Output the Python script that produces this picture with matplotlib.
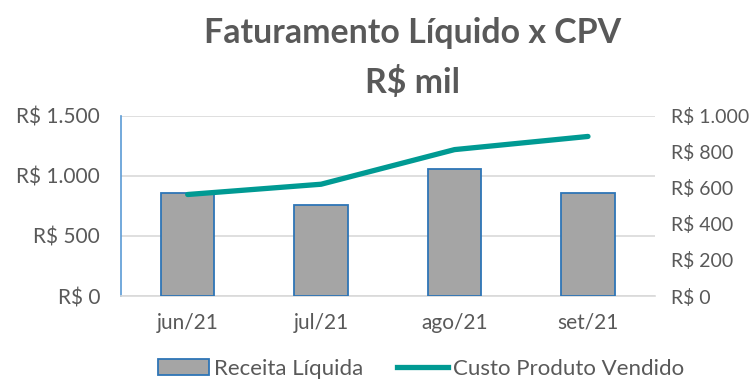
import matplotlib
matplotlib.use("Agg")
import matplotlib.pyplot as plt
from matplotlib.ticker import FuncFormatter
from matplotlib.lines import Line2D
from matplotlib.patches import Patch

plt.rcParams['font.family'] = ['Lato', 'DejaVu Sans']

meses = ["jun/21", "jul/21", "ago/21", "set/21"]
receita_liquida = [860, 760, 1060, 860]
custo_produto = [563, 620, 812, 885]

TXT = "#595959"
BAR_FILL = "#A5A5A5"
BAR_EDGE = "#2E75B6"
LINE_C = "#009A93"
GRID = "#D9D9D9"


def reais(v, _pos=None):
    s = f"{int(round(v)):,}".replace(",", ".")
    return f"R$ {s}"


fig = plt.figure(figsize=(7.56, 3.8), dpi=100)
ax = fig.add_axes([0.160, 0.221, 0.706, 0.4745])
ax2 = ax.twinx()

x = list(range(len(meses)))
ax.bar(x, receita_liquida, width=0.4, color=BAR_FILL, edgecolor=BAR_EDGE,
       linewidth=1.3, zorder=3)
ax2.plot(x, custo_produto, color=LINE_C, linewidth=3.8,
         solid_capstyle="round", solid_joinstyle="round", zorder=4)

ax.set_xlim(-0.5, len(meses) - 0.5)
ax.set_ylim(0, 1500)
ax.set_yticks([0, 500, 1000, 1500])
ax.yaxis.set_major_formatter(FuncFormatter(reais))
ax2.set_ylim(0, 1000)
ax2.set_yticks([0, 200, 400, 600, 800, 1000])
ax2.yaxis.set_major_formatter(FuncFormatter(reais))

ax.set_xticks(x)
ax.set_xticklabels(meses)
ax.grid(axis="y", color=GRID, linewidth=1.2, zorder=0)
ax.set_axisbelow(True)

for a in (ax, ax2):
    for s in ("top", "right", "left", "bottom"):
        a.spines[s].set_visible(False)
ax.spines["left"].set_visible(True)
ax.spines["left"].set_color("#5B9BD5")
ax.spines["left"].set_linewidth(1.2)
ax.spines["bottom"].set_visible(True)
ax.spines["bottom"].set_color(GRID)
ax.spines["bottom"].set_linewidth(1.2)

ax.tick_params(axis="y", length=0, pad=15, labelsize=15, labelcolor=TXT)
ax.tick_params(axis="x", length=0, pad=12, labelsize=15, labelcolor=TXT)
ax2.tick_params(axis="y", length=0, pad=12, labelsize=14, labelcolor=TXT)

fig.text(0.546, 0.886, "Faturamento Líquido x CPV", ha="center", va="baseline",
         fontsize=24.4, fontweight="bold", color=TXT)
fig.text(0.546, 0.7545, "R$ mil", ha="center", va="baseline",
         fontsize=24.4, fontweight="bold", color=TXT)

handles = [Patch(facecolor=BAR_FILL, edgecolor=BAR_EDGE, linewidth=1.3),
           Line2D([0], [0], color=LINE_C, linewidth=3.8)]
fig.legend(handles, ["Receita Líquida", "Custo Produto Vendido"],
           loc="center", bbox_to_anchor=(0.557, 0.03), ncol=2, frameon=False,
           fontsize=16, labelcolor=TXT, handlelength=2.3, handletextpad=0.25,
           columnspacing=1.5, handleheight=0.7, borderpad=0.0)

fig.savefig("out.png", dpi=100)
